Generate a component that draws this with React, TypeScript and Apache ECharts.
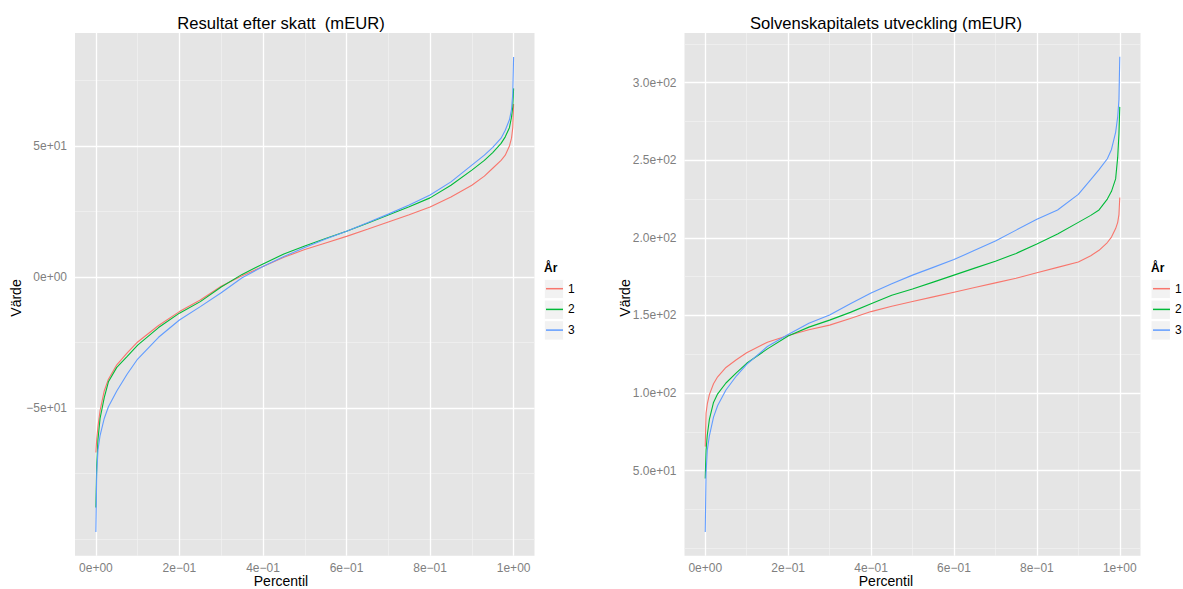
import React, { useEffect, useRef } from "react";
import * as echarts from "echarts";

// Percentile positions shared by every curve
const percentiles = [0, 0.002, 0.005, 0.01, 0.02, 0.03, 0.05, 0.075, 0.1, 0.15, 0.2, 0.25, 0.3, 0.35, 0.4, 0.45, 0.5, 0.55, 0.6, 0.65, 0.7, 0.75, 0.8, 0.85, 0.9, 0.93, 0.95, 0.97, 0.98, 0.99, 0.995, 0.998, 1];

// Left panel: Resultat efter skatt (mEUR)
const resultYear1 = [-67, -62, -57, -51, -43.5, -39, -33.5, -29, -24.8, -18.5, -13.2, -8.8, -3.5, 0.5, 4, 7.5, 10.5, 13, 15.5, 18.2, 21, 23.8, 26.7, 30.5, 35, 38.5, 41.5, 44.5, 46.5, 50, 53, 57, 66];
const resultYear2 = [-88, -72, -62, -54, -46, -40, -34.5, -30.3, -26, -19.3, -13.8, -9.4, -3.8, 1, 5, 8.8, 11.8, 14.7, 17.5, 20.5, 23.7, 26.8, 30.2, 35, 40.8, 44.5, 47.5, 51, 53.5, 57, 61, 65, 72];
const resultYear3 = [-97.3, -75, -66, -60.5, -54, -49.5, -43.5, -37, -31.3, -23, -16.4, -11.3, -6, -0.3, 4, 7.8, 11.3, 14.5, 17.5, 20.7, 24, 27.5, 31.3, 36.3, 42.7, 46.5, 49.5, 53, 56, 60, 64, 70, 84];

// Right panel: Solvenskapitalets utveckling (mEUR)
const solvYear1 = [65.5, 87, 93, 99, 106, 110.5, 116.5, 121.5, 126, 132.8, 137.1, 140.8, 143.8, 148, 152.5, 156, 159, 162, 165, 168, 171, 174, 177.5, 181, 184.5, 188.5, 192, 197, 200.5, 206, 210, 215, 226];
const solvYear2 = [45, 63.3, 73, 83, 94, 99.5, 106.5, 113, 119.2, 128.5, 136.8, 142.5, 147, 152, 157.5, 163, 167, 171.5, 176, 180.5, 185, 190, 196, 202.5, 210, 214.5, 218, 225, 230, 238, 252, 267, 284.4];
const solvYear3 = [10.5, 48.3, 63.3, 72.5, 84.5, 92, 102, 111, 118.5, 130, 137.8, 145, 150.3, 157.5, 164.5, 170.5, 176, 181, 186, 192, 198, 205, 212, 218, 228, 237.5, 244, 251, 257, 268, 278, 289, 316.7];

const yearNames = ["1", "2", "3"];
const yearColors = ["#F8766D", "#00BA38", "#619CFF"];

const xTickValues = [0, 0.2, 0.4, 0.6, 0.8, 1];
const xTickLabels = ["0e+00", "2e\u221201", "4e\u221201", "6e\u221201", "8e\u221201", "1e+00"];
const xMinorValues = [0.1, 0.3, 0.5, 0.7, 0.9];

const leftYTickValues = [-50, 0, 50];
const leftYTickLabels = ["\u22125e+01", "0e+00", "5e+01"];
const leftYMinorValues = [-100, -75, -25, 25, 75];

const rightYTickValues = [50, 100, 150, 200, 250, 300];
const rightYTickLabels = ["5.0e+01", "1.0e+02", "1.5e+02", "2.0e+02", "2.5e+02", "3.0e+02"];
const rightYMinorValues = [0, 25, 75, 125, 175, 225, 275, 325];

const FONT = "Liberation Sans, Arial, Helvetica, sans-serif";

function pickLabel(values: number[], labels: string[]) {
  return (v: number) => {
    let best = 0;
    for (let i = 0; i < values.length; i++) {
      if (Math.abs(values[i] - v) < Math.abs(values[best] - v)) best = i;
    }
    return labels[best];
  };
}

function pairs(vals: number[]) {
  return percentiles.map((p, i) => [p, vals[i]]);
}

function valueAxisX(gridIndex: number) {
  return {
    type: "value",
    gridIndex,
    min: -0.05,
    max: 1.05,
    axisLine: { show: false },
    splitLine: { show: false },
    axisTick: { show: true, length: 4, customValues: xTickValues, lineStyle: { color: "#7F7F7F", width: 1 } },
    axisLabel: {
      customValues: xTickValues,
      formatter: pickLabel(xTickValues, xTickLabels),
      color: "#7F7F7F",
      fontSize: 12,
      fontFamily: FONT,
      margin: 6,
    },
  };
}

function valueAxisY(gridIndex: number, min: number, max: number, ticks: number[], labels: string[]) {
  return {
    type: "value",
    gridIndex,
    min,
    max,
    axisLine: { show: false },
    splitLine: { show: false },
    axisTick: { show: true, length: 4, customValues: ticks, lineStyle: { color: "#7F7F7F", width: 1 } },
    axisLabel: {
      customValues: ticks,
      formatter: pickLabel(ticks, labels),
      color: "#7F7F7F",
      fontSize: 12,
      fontFamily: FONT,
      margin: 8,
    },
  };
}

function gridSeries(idx: number, xs: number[], ys: number[], color: string, width: number) {
  return {
    type: "line",
    xAxisIndex: idx,
    yAxisIndex: idx,
    data: [[0.5, ys.length ? ys[0] : 0]],
    showSymbol: false,
    lineStyle: { width: 0, opacity: 0 },
    silent: true,
    z: 1,
    legendHoverLink: false,
    markLine: {
      silent: true,
      z: 1,
      symbol: ["none", "none"],
      label: { show: false },
      emphasis: { disabled: true },
      animation: false,
      lineStyle: { color, width, type: "solid", opacity: 1 },
      data: [...xs.map((v) => ({ xAxis: v })), ...ys.map((v) => ({ yAxis: v }))],
    },
  };
}

function curveSeries(idx: number, vals: number[], k: number) {
  return {
    type: "line",
    name: yearNames[k],
    xAxisIndex: idx,
    yAxisIndex: idx,
    data: pairs(vals),
    showSymbol: false,
    symbol: "none",
    smooth: false,
    lineStyle: { width: 1.1, color: yearColors[k] },
    itemStyle: { color: yearColors[k] },
    emphasis: { disabled: true },
    z: 3 + k,
  };
}

function legendBoxes(x: number) {
  const tops = [279.3, 300, 320.7];
  return tops.map((t) => ({
    type: "rect",
    shape: { x, y: t, width: 19.4, height: 19.4 },
    style: { fill: "#F2F2F2", stroke: "#FFFFFF", lineWidth: 1 },
    z: 0,
    silent: true,
  }));
}

function textEl(text: string, x: number, y: number, size: number, opts: any = {}) {
  return {
    type: "text",
    x,
    y,
    rotation: opts.rotation || 0,
    silent: true,
    z: 10,
    style: {
      text,
      fill: "#000000",
      font: `${opts.bold ? "bold " : ""}${size}px ${FONT}`,
      textAlign: opts.align || "center",
      textVerticalAlign: "middle",
      align: opts.align || "center",
      verticalAlign: "middle",
    },
  };
}

function legendCfg(left: number) {
  return {
    orient: "vertical",
    left,
    top: 281.7,
    padding: 0,
    itemWidth: 17,
    itemHeight: 1.5,
    itemGap: 6.7,
    icon: "rect",
    selectedMode: false,
    z: 5,
    data: yearNames,
    textStyle: { color: "#000000", fontSize: 12, fontFamily: FONT, lineHeight: 14, padding: 0 },
  };
}

export default function App() {
  const ref = useRef<HTMLDivElement>(null);

  useEffect(() => {
    if (!ref.current) return;
    const chart = echarts.init(ref.current, undefined, { renderer: "svg" });
    const option: any = {
      animation: false,
      backgroundColor: "#FFFFFF",
      textStyle: { fontFamily: FONT },
      grid: [
        { left: 75, top: 33, width: 459.5, height: 522.7, show: true, backgroundColor: "#E5E5E5", borderWidth: 0, containLabel: false },
        { left: 684.5, top: 33, width: 456, height: 522.7, show: true, backgroundColor: "#E5E5E5", borderWidth: 0, containLabel: false },
      ],
      xAxis: [valueAxisX(0), valueAxisX(1)],
      yAxis: [
        valueAxisY(0, -106.37, 93.13, leftYTickValues, leftYTickLabels),
        valueAxisY(1, -4.77, 332.0, rightYTickValues, rightYTickLabels),
      ],
      legend: [legendCfg(546), legendCfg(1153)],
      series: [
        gridSeries(0, xMinorValues, leftYMinorValues, "#F2F2F2", 0.7),
        gridSeries(0, xTickValues, leftYTickValues, "#FFFFFF", 1.3),
        gridSeries(1, xMinorValues, rightYMinorValues, "#F2F2F2", 0.7),
        gridSeries(1, xTickValues, rightYTickValues, "#FFFFFF", 1.3),
        curveSeries(0, resultYear1, 0),
        curveSeries(0, resultYear2, 1),
        curveSeries(0, resultYear3, 2),
        curveSeries(1, solvYear1, 0),
        curveSeries(1, solvYear2, 1),
        curveSeries(1, solvYear3, 2),
      ],
      graphic: [
        ...legendBoxes(544.3),
        ...legendBoxes(1151),
        textEl("Resultat efter skatt  (mEUR)", 281, 23, 16.6),
        textEl("Solvenskapitalets utveckling (mEUR)", 886, 23, 16.6),
        textEl("Percentil", 281, 581, 14),
        textEl("Percentil", 886, 581, 14),
        textEl("Värde", 16, 298, 14, { rotation: Math.PI / 2 }),
        textEl("Värde", 625, 298, 14, { rotation: Math.PI / 2 }),
        textEl("År", 544, 268, 12, { bold: true, align: "left" }),
        textEl("År", 1151, 268, 12, { bold: true, align: "left" }),
      ],
    };
    chart.setOption(option);
    return () => chart.dispose();
  }, []);

  return (
    <div
      ref={ref}
      style={{ position: "absolute", left: 0, top: 0, width: 1183, height: 589 }}
    />
  );
}
